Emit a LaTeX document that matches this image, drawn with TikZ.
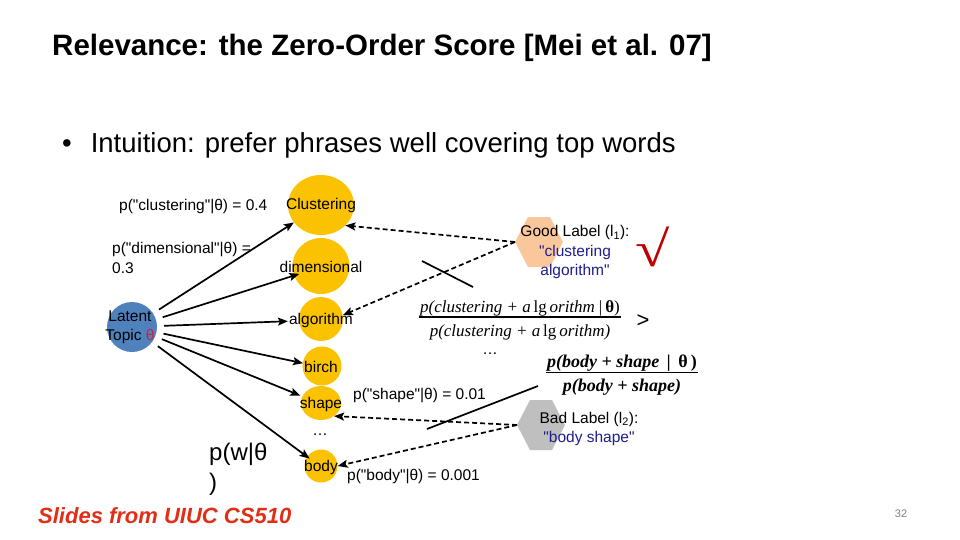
\documentclass[tikz,border=0pt]{standalone}
\usepackage{fontspec}
\setmainfont{Liberation Sans}[Ligatures=TeXOff]
\newfontfamily\tms{Liberation Serif}
\newfontfamily\chk{Liberation Serif}
\usepackage{graphicx}
\usepackage{tikz}
\usetikzlibrary{arrows.meta,shapes.geometric}

\definecolor{topicBlue}{RGB}{79,129,189}
\definecolor{wordGold}{RGB}{250,194,0}
\definecolor{goodPeach}{RGB}{250,198,156}
\definecolor{badGray}{RGB}{191,191,191}
\definecolor{labelNavy}{RGB}{30,30,140}
\definecolor{checkRed}{RGB}{192,0,0}
\definecolor{slideRed}{RGB}{226,46,22}
\definecolor{thetaRed}{RGB}{190,40,70}

\begin{document}
\begin{tikzpicture}[x=1pt,y=-1pt,
  ball/.style={ellipse,fill=wordGold,inner sep=0pt},
  txt/.style={font=\fontsize{15.5}{17}\selectfont,inner sep=1pt},
  frac/.style={font=\tms\fontsize{17}{19}\selectfont,inner sep=1pt},
  gen/.style={-{Stealth[length=10pt,width=8pt,inset=2pt]},line width=1.7pt},
  hint/.style={gen,dash pattern=on 5pt off 3pt}]
\def\cLine{black}
\def\cText{black}
\useasboundingbox (0,0) rectangle (960,540);
\fill[white] (0,0) rectangle (960,540);
\node[anchor=west,inner sep=0pt,font=\bfseries\fontsize{29.5}{32}\selectfont] (title) at (52,48)
  {Relevance: the Zero-Order Score [Mei et al. 07]};
\node[anchor=west,inner sep=0pt,font=\fontsize{27.5}{30}\selectfont] (bullet) at (62,145)
  {\textbullet\hspace{19pt}Intuition: prefer phrases well covering top words};
\node[circle,fill=topicBlue,minimum size=50pt,inner sep=0pt] (topic) at (132,327) {};
\node[txt,align=center,font=\fontsize{15.5}{19}\selectfont] (topicT) at (130,327)
  {Latent\\Topic \textcolor{thetaRed}{θ}};
\node[ball,minimum width=66pt,minimum height=60pt] (clus) at (321,205) {};
\node[ball,minimum width=57pt,minimum height=56pt] (dim) at (321,266) {};
\node[ball,minimum size=44pt] (alg) at (321,319) {};
\node[ball,minimum size=39pt] (birch) at (322,366) {};
\node[ball,minimum width=40pt,minimum height=34pt] (shape) at (321,403) {};
\node[ball,minimum size=33pt] (body) at (321,466) {};
\node[txt] (clusT) at (321,205) {Clustering};
\node[txt] (dimT) at (321,267) {dimensional};
\node[txt] (algT) at (321,320) {algorithm};
\node[txt] (birchT) at (321,367) {birch};
\node[txt] (shapeT) at (321,404) {shape};
\node[txt] (bodyT) at (321,467) {body};
\node[txt] (dots1) at (320,435) {\ldots};
\draw[gen,shorten <=7pt] (topic) -- (clus);
\draw[gen,shorten <=7pt] (topic) -- (dimT);
\draw[gen,shorten <=7pt] (topic) -- (algT);
\draw[gen,shorten <=7pt] (topic) -- (birchT);
\draw[gen,shorten <=7pt] (topic) -- (shapeT);
\draw[gen,shorten <=7pt] (topic) -- (bodyT);
\node[txt,anchor=west] (pclus) at (118,207) {p("clustering"|θ) = 0.4};
\node[txt,anchor=west,align=left,font=\fontsize{15.5}{20}\selectfont] (pdim) at (111,258)
  {p("dimensional"|θ) =\\0.3};
\node[txt,anchor=west] (pshape) at (352,396) {p("shape"|θ) = 0.01};
\node[txt,anchor=west] (pbody) at (346,477) {p("body"|θ) = 0.001};
\node[anchor=north west,align=left,inner sep=0pt,font=\fontsize{24}{30}\selectfont] (pw) at (209,443)
  {p(w|θ\\)};
\coordinate (good) at (539,242);
\fill[goodPeach] (515,242) -- (528,217) -- (550,217) -- (563,242) -- (550,267) -- (528,267) -- cycle;
\coordinate (goodL) at (515,242);
\coordinate (bad) at (541,425);
\fill[badGray] (517,425) -- (530,400) -- (552,400) -- (565,425) -- (552,450) -- (530,450) -- cycle;
\coordinate (badL) at (517,425);
\node[txt,align=center,font=\fontsize{15.5}{19.5}\selectfont] (goodT) at (575,252)
  {Good Label (l\textsubscript{1}):\\\textcolor{labelNavy}{"clustering}\\\textcolor{labelNavy}{algorithm"}};
\node[txt,align=center,font=\fontsize{15.5}{19.5}\selectfont] (badT) at (589,429)
  {Bad Label (l\textsubscript{2}):\\\textcolor{labelNavy}{"body shape"}};
\draw[hint] (goodL) -- (clus.-40);
\draw[hint] (goodL) -- (alg.10);
\draw[hint] (badL) -- (shape.-45);
\draw[hint] (badL) -- (body.east);
\draw[\cLine,line width=1.7pt] (422,261) -- (473,287);
\draw[\cLine,line width=1.7pt] (427,429) -- (538,386);
\node[anchor=center,inner sep=0pt,text=checkRed,font=\chk\fontsize{50}{50}\selectfont] (check) at (653,247)
  {\scalebox{1.25}[1]{√}};
\node[frac] (num1) at (520,308)
  {{\itshape p(clustering + a\,}lg\,{\itshape orithm\,|\,}{\bfseries θ})};
\node[frac] (den1) at (520,332)
  {{\itshape p(clustering + a\,}lg\,{\itshape orithm)}};
\draw[line width=1.2pt] (num1.south west) -- (num1.south east);
\node[txt,font=\fontsize{22}{24}\selectfont] (gt) at (643,321) {>};
\node[txt] (dots2) at (490,354) {\ldots};
\node[frac,font=\tms\bfseries\fontsize{18}{20}\selectfont] (num2) at (622,363)
  {{\itshape p(body + shape \,|\, }θ\,)};
\node[frac,font=\tms\bfseries\fontsize{18}{20}\selectfont] (den2) at (622,387)
  {{\itshape p(body + shape)}};
\draw[line width=1.2pt] (num2.south west) -- (num2.south east);
\node[anchor=west,inner sep=0pt,text=slideRed,font=\bfseries\itshape\fontsize{22}{24}\selectfont] (credit) at (38,516)
  {Slides from UIUC CS510};
\node[inner sep=0pt,text=gray,font=\fontsize{11}{12}\selectfont] (page) at (901,514) {32};
\end{tikzpicture}
\end{document}
